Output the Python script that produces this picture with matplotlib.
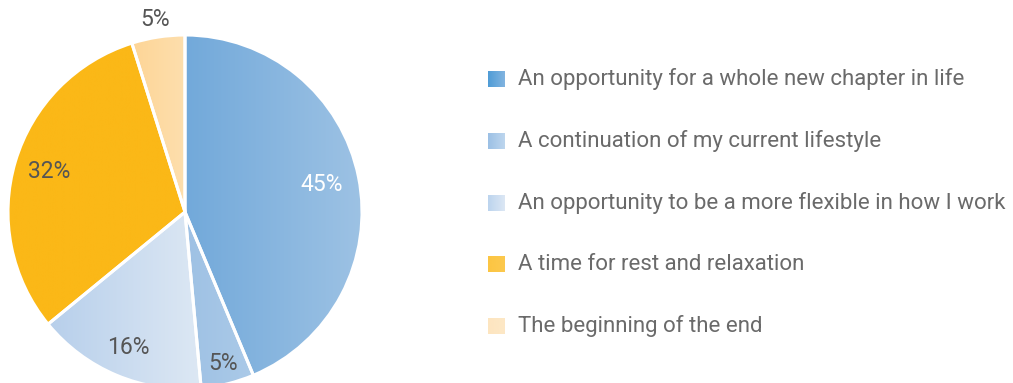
import matplotlib.pyplot as plt
import numpy as np
from matplotlib.colors import LinearSegmentedColormap
from matplotlib.patches import Rectangle

plt.rcParams['font.family'] = ['Roboto', 'DejaVu Sans']

categories = ['An opportunity for a whole new chapter in life',
              'A continuation of my current lifestyle',
              'An opportunity to be a more flexible in how I work',
              'A time for rest and relaxation',
              'The beginning of the end']
values = [45, 5, 16, 32, 5]
pct_labels = ['45%', '5%', '16%', '32%', '5%']

# horizontal gradients (left colour, right colour) for slices and legend keys
slice_grad = [('#72a9da', '#9dc2e4'), ('#9ec1e4', '#abcae8'), ('#b7cfeb', '#dde8f4'),
              ('#fbb817', '#fbb817'), ('#fdd596', '#fedfae')]
key_grad = [('#4f9cd6', '#82b4e0'), ('#9bc0e5', '#bed6ee'), ('#bcd4ee', '#dce7f4'),
            ('#fcc542', '#fcc94e'), ('#fde5c0', '#fde8c6')]
label_colors = ['white', '#555555', '#555555', '#555555', '#555555']
label_dist = [0.79, 0.88, 0.83, 0.80, 1.10]

W, H = 1013, 383
fig = plt.figure(figsize=(W / 100, H / 100), dpi=100)
ax = fig.add_axes([0, 0, 1, 1])

cx, cy, R = 185, 171, 177
wedges, _ = ax.pie(values, startangle=90, counterclock=False, center=(cx, cy), radius=R,
                   wedgeprops=dict(edgecolor='white', linewidth=2.2, facecolor='none', zorder=3),
                   frame=True)
ax.set_aspect('equal')
ax.axis('off')


def gradient_fill(patch, c0, c1, x0, x1, y0, y1, z=2):
    cmap = LinearSegmentedColormap.from_list('g', [c0, c1])
    grad = np.linspace(0, 1, 256).reshape(1, -1)
    im = ax.imshow(grad, cmap=cmap, extent=[x0, x1, y0, y1], aspect='auto',
                   origin='lower', zorder=z, interpolation='bilinear')
    im.set_clip_path(patch)


for w, (c0, c1) in zip(wedges, slice_grad):
    ext = w.get_path().get_extents(w.get_patch_transform())
    gradient_fill(w, c0, c1, ext.x0, ext.x1, ext.y0, ext.y1)

# percentage labels along each slice bisector
for w, lab, col, d in zip(wedges, pct_labels, label_colors, label_dist):
    mid = np.deg2rad((w.theta1 + w.theta2) / 2)
    ax.text(cx + d * R * np.cos(mid), cy + d * R * np.sin(mid), lab, color=col,
            fontsize=16.5, ha='center', va='center', zorder=5)

# legend
ky = [304, 242, 180, 119, 57]
for name, (c0, c1), y in zip(categories, key_grad, ky):
    sq = Rectangle((488, y - 8.5), 17, 17, facecolor='none', edgecolor='none')
    ax.add_patch(sq)
    gradient_fill(sq, c0, c1, 488, 505, y - 8.5, y + 8.5)
    ax.text(518, y, name, color='#6a6a6a', fontsize=16,
            ha='left', va='center')

ax.set_xlim(0, W)
ax.set_ylim(0, H)
fig.savefig('out.png', dpi=100)
